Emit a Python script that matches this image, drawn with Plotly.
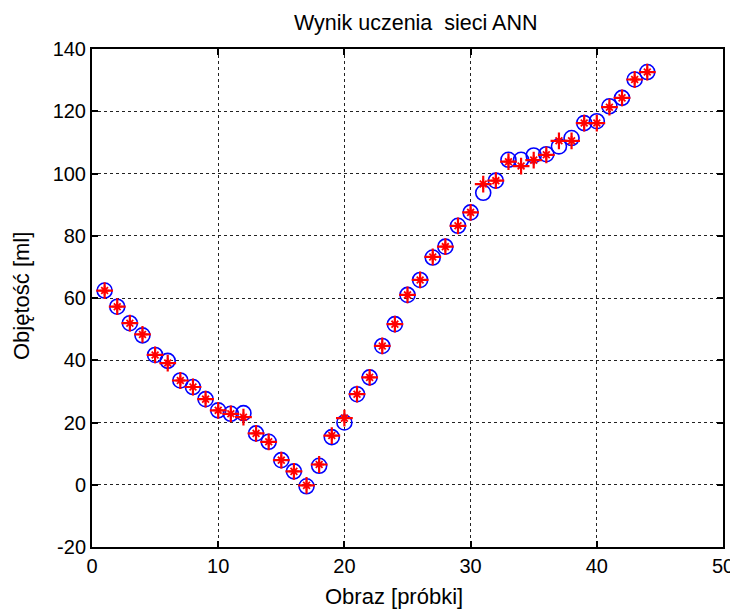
import plotly.graph_objects as go

# Sample index
samples = list(range(1, 45))

# Network output (blue circles)
ann_output = [62.4, 57.2, 51.9, 48.0, 41.7, 39.8, 33.5, 31.4, 27.5, 23.9,
              22.8, 23.0, 16.5, 13.8, 7.9, 4.3, -0.5, 6.1, 15.3, 20.0,
              29.1, 34.5, 44.6, 51.6, 61.0, 65.8, 73.0, 76.5, 83.2, 87.5,
              93.8, 97.7, 104.4, 104.4, 105.8, 106.2, 108.7, 111.4, 116.2, 116.8,
              121.6, 124.3, 130.2, 132.6]

# Target values (red markers)
target = [62.4, 57.2, 51.9, 48.3, 41.7, 39.1, 33.5, 31.4, 27.5, 23.9,
          22.8, 21.7, 16.5, 13.8, 7.9, 4.3, -0.2, 6.5, 15.8, 21.4,
          29.1, 34.5, 44.6, 51.6, 61.0, 65.8, 73.2, 76.5, 83.2, 87.5,
          96.6, 97.7, 103.8, 102.4, 104.3, 106.0, 110.5, 110.5, 116.2, 116.2,
          121.3, 124.3, 130.2, 132.6]

x_ticks = [0, 10, 20, 30, 40, 50]
y_ticks = [-20, 0, 20, 40, 60, 80, 100, 120, 140]
y_tick_text = ["-20", "0", "20", "40", "60", "80", "100", "120", "140"]

title_text = "Wynik uczenia  sieci ANN"
x_label = "Obraz [próbki]"
y_label = "Objętość [ml]"

FONT = "Liberation Sans, Arial, Helvetica, sans-serif"

fig = go.Figure()
fig.add_trace(go.Scatter(
    x=samples, y=ann_output, mode="markers",
    marker=dict(symbol="circle-open", size=15, color="#0000ff",
                line=dict(color="#0000ff", width=1.6)),
    showlegend=False, hoverinfo="x+y"))
fig.add_trace(go.Scatter(
    x=samples, y=target, mode="markers",
    marker=dict(symbol="cross-thin-open", size=12, color="#ff0000",
                line=dict(color="#ff0000", width=2.2)),
    showlegend=False, hoverinfo="x+y"))
fig.add_trace(go.Scatter(
    x=samples, y=target, mode="markers",
    marker=dict(symbol="asterisk-open", size=8, color="#ff0000",
                line=dict(color="#ff0000", width=1.8)),
    showlegend=False, hoverinfo="skip"))

axis_common = dict(
    showline=True, linecolor="black", linewidth=2, mirror="allticks",
    ticks="inside", ticklen=6, tickwidth=2, tickcolor="black",
    showgrid=True, gridcolor="#222222", gridwidth=1, griddash="dot",
    zeroline=False, automargin=False,
    tickfont=dict(family=FONT, size=20, color="black"),
)

fig.update_layout(
    width=730, height=604,
    margin=dict(l=84, r=15, t=41, b=65),
    paper_bgcolor="white", plot_bgcolor="white",
    font=dict(family=FONT, color="black"),
    title=dict(text=title_text, x=0.513, xref="paper", xanchor="center",
               y=1 - 14 / 604, yref="container", yanchor="middle",
               font=dict(family=FONT, size=21.5, color="black")),
    xaxis=dict(range=[0, 50], tickvals=x_ticks, **axis_common),
    yaxis=dict(range=[-20, 140], tickvals=y_ticks, ticktext=y_tick_text, **axis_common),
    annotations=[
        dict(text=x_label, xref="paper", yref="paper", x=0.4786, y=-0.1004,
             xanchor="center", yanchor="middle", showarrow=False,
             font=dict(family=FONT, size=22, color="black")),
        dict(text=y_label, xref="paper", yref="paper", x=-0.1125, y=0.504,
             xanchor="center", yanchor="middle", textangle=-90, showarrow=False,
             font=dict(family=FONT, size=22, color="black")),
    ],
)

fig.write_html("out.html")
